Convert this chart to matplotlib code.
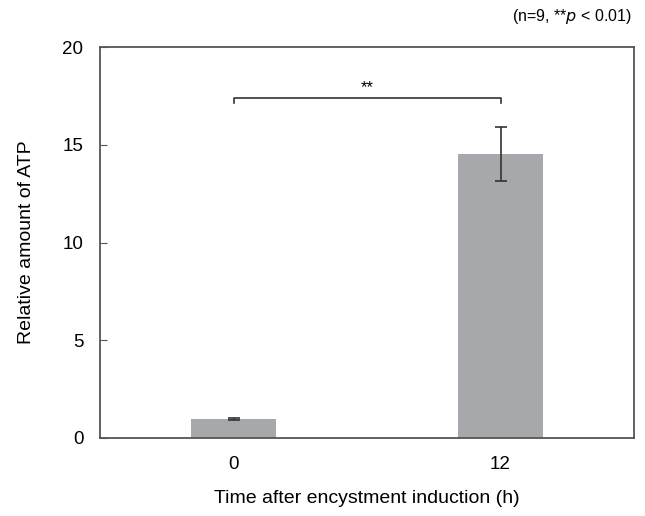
import matplotlib.pyplot as plt

plt.rcParams['font.family'] = ['Liberation Sans', 'DejaVu Sans']

# data
categories = ["0", "12"]
atp_mean = [0.96, 14.53]
atp_err = [0.05, 1.38]
sig_label = "**"

fig = plt.figure(figsize=(6.45, 5.16), dpi=100)
ax = fig.add_axes([100 / 645, 1 - 438 / 516, 534 / 645, 391 / 516])

x = range(len(categories))
ax.bar(x, atp_mean, width=0.315, color="#a7a8ac", zorder=2)
ax.errorbar(x, atp_mean, yerr=atp_err, fmt="none", ecolor="#333333",
            elinewidth=1.2, capsize=4, capthick=1.2, zorder=3)

# significance bracket
y_br = 17.37
ax.plot([0, 0, 1, 1], [y_br - 0.25, y_br, y_br, y_br - 0.25],
        color="#333333", lw=1.2, zorder=3)
ax.text(0.5, y_br + 0.15, sig_label, ha="center", va="bottom", fontsize=12)

ax.set_xlim(-0.5, 1.5)
ax.set_ylim(0, 20)
ax.set_yticks([0, 5, 10, 15, 20])
ax.set_xticks(list(x))
ax.set_xticklabels(categories)
ax.tick_params(axis="y", direction="in", length=5, labelsize=13.5, colors="#555555",
               labelcolor="black", pad=12)
ax.tick_params(axis="x", length=0, labelsize=13.5, pad=13)
for sp in ax.spines.values():
    sp.set_color("#555555")
    sp.set_linewidth(1.3)

ax.set_xlabel("Time after encystment induction (h)", fontsize=14, labelpad=12)
ax.set_ylabel("Relative amount of ATP", fontsize=14, labelpad=20)

fig.text(632 / 645, 1 - 16 / 516, "(n=9, **$\\it{p}$ < 0.01)", ha="right", va="center",
         fontsize=11.5)

fig.savefig("out.png", dpi=100, facecolor="white")
